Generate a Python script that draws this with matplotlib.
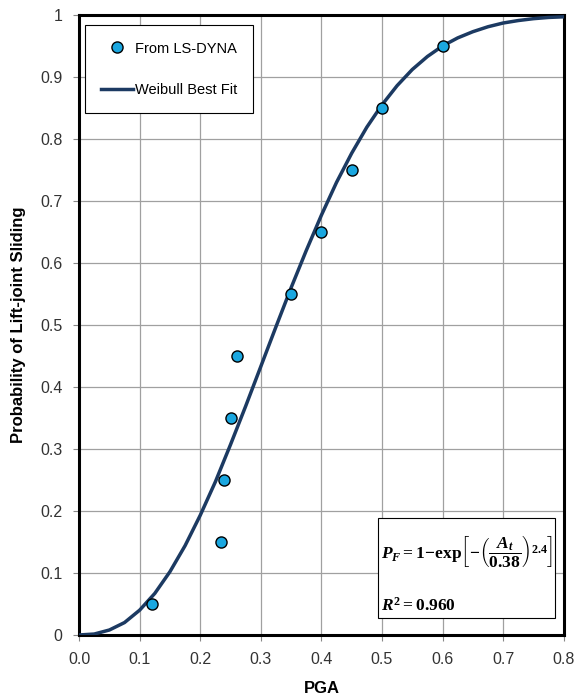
import matplotlib.pyplot as plt
from matplotlib.patches import Rectangle

plt.rcParams['font.family'] = ['Liberation Sans', 'DejaVu Sans']
plt.rcParams['mathtext.fontset'] = 'custom'
plt.rcParams['mathtext.rm'] = 'Liberation Serif:bold'
plt.rcParams['mathtext.it'] = 'Liberation Serif:italic:bold'
plt.rcParams['mathtext.bf'] = 'Liberation Serif:bold'

# LS-DYNA results (PGA, probability)
pga_pts = [0.12, 0.235, 0.24, 0.25, 0.26, 0.35, 0.40, 0.45, 0.50, 0.60]
prob_pts = [0.05, 0.15, 0.25, 0.35, 0.45, 0.55, 0.65, 0.75, 0.85, 0.95]

# Weibull best fit curve
pga_fit = [0.0, 0.025, 0.05, 0.075, 0.10, 0.125, 0.15, 0.175, 0.20, 0.225,
           0.25, 0.275, 0.30, 0.325, 0.35, 0.375, 0.40, 0.425, 0.45, 0.475,
           0.50, 0.525, 0.55, 0.575, 0.60, 0.625, 0.65, 0.675, 0.70, 0.725,
           0.75, 0.775, 0.80]
prob_fit = [0.0, 0.0015, 0.008, 0.020, 0.040, 0.067, 0.102, 0.144, 0.193, 0.247,
            0.307, 0.369, 0.433, 0.497, 0.560, 0.620, 0.677, 0.730, 0.777, 0.819,
            0.855, 0.886, 0.912, 0.933, 0.950, 0.963, 0.973, 0.981, 0.987, 0.991,
            0.994, 0.996, 0.997]

x_ticks = [0.0, 0.1, 0.2, 0.3, 0.4, 0.5, 0.6, 0.7, 0.8]
y_ticks = [0, 0.1, 0.2, 0.3, 0.4, 0.5, 0.6, 0.7, 0.8, 0.9, 1]
y_labels = ['0', '0.1', '0.2', '0.3', '0.4', '0.5', '0.6', '0.7', '0.8', '0.9', '1']

fig = plt.figure(figsize=(5.77, 6.99), dpi=100)
ax = fig.add_axes([0.137, 0.0916, 0.840, 0.887])

ax.plot(pga_pts, prob_pts, 'o', ms=8, mfc='#1aa7e0', mec='black', mew=1.0,
        label='From LS-DYNA', zorder=4)
ax.plot(pga_fit, prob_fit, '-', color='#1c3a62', lw=2.5,
        label='Weibull Best Fit', zorder=3)

ax.set_xlim(0, 0.8)
ax.set_ylim(0, 1)
ax.set_xticks(x_ticks)
ax.set_xticklabels(['%.1f' % v for v in x_ticks])
ax.set_yticks(y_ticks)
ax.set_yticklabels(y_labels)
ax.tick_params(labelsize=11.5, length=4, width=0.8, color='#888888', direction='out',
               pad=8, labelcolor='#333333')
ax.grid(True, color='#a0a0a0', lw=0.9)
ax.set_axisbelow(True)
for sp in ax.spines.values():
    sp.set_linewidth(2.2)
    sp.set_color('black')

ax.set_xlabel('PGA', fontsize=12, fontweight='bold', labelpad=10)
ax.set_ylabel('Probability of Lift-joint Sliding', fontsize=12, fontweight='bold', labelpad=10)

leg = ax.legend(loc='upper left', bbox_to_anchor=(0.012, 0.983), fontsize=10.5,
                fancybox=False, edgecolor='black', framealpha=1, borderpad=1.1,
                labelspacing=1.9, handlelength=2.2, handletextpad=0.15,
                borderaxespad=0)
leg.get_frame().set_linewidth(0.8)

# equation box
ax.add_patch(Rectangle((0.616, 0.027), 0.367, 0.162, transform=ax.transAxes,
                       fc='white', ec='black', lw=0.8, zorder=5))
ax.text(0.622, 0.136,
        r'$P_F = 1\!-\!\mathrm{exp}\left[-\left(\dfrac{A_t}{0.38}\right)^{2.4}\right]$',
        transform=ax.transAxes, fontsize=12.5, va='center', ha='left', zorder=6)
ax.text(0.622, 0.048, r'$R^2 = 0.960$', transform=ax.transAxes, fontsize=12.5,
        va='center', ha='left', zorder=6)

fig.savefig('out.png', dpi=100)
